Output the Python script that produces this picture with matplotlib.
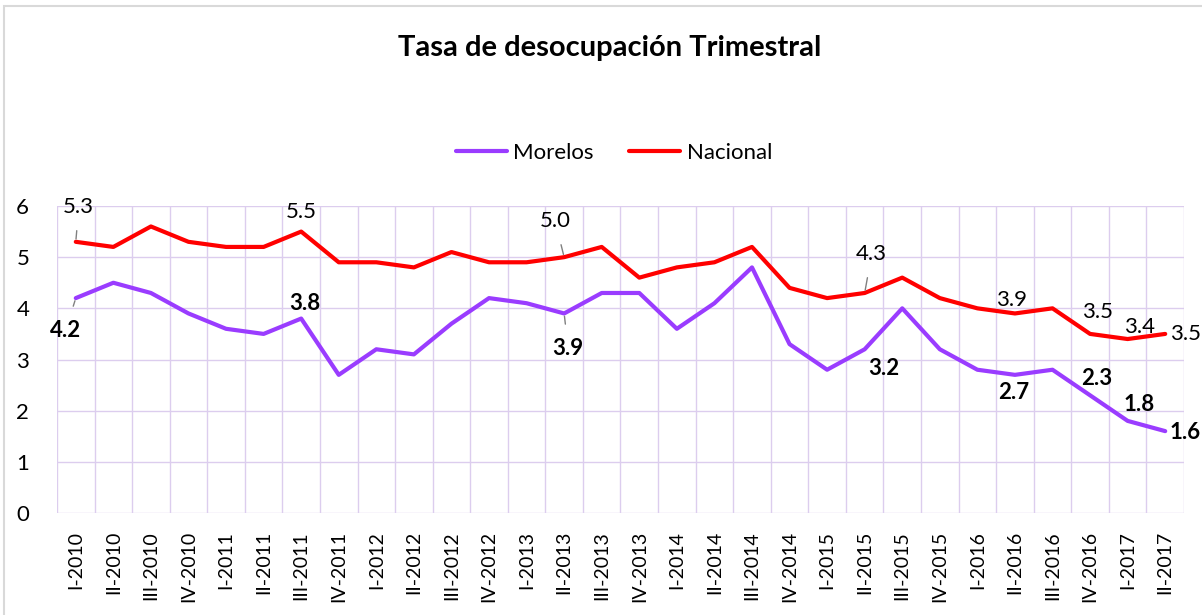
import matplotlib.pyplot as plt
from matplotlib.patches import Rectangle

plt.rcParams['font.family'] = ['Lato', 'DejaVu Sans']

quarters = ["I-2010", "II-2010", "III-2010", "IV-2010",
            "I-2011", "II-2011", "III-2011", "IV-2011",
            "I-2012", "II-2012", "III-2012", "IV-2012",
            "I-2013", "II-2013", "III-2013", "IV-2013",
            "I-2014", "II-2014", "III-2014", "IV-2014",
            "I-2015", "II-2015", "III-2015", "IV-2015",
            "I-2016", "II-2016", "III-2016", "IV-2016",
            "I-2017", "II-2017"]

morelos = [4.2, 4.5, 4.3, 3.9, 3.6, 3.5, 3.8, 2.7, 3.2, 3.1, 3.7, 4.2,
           4.1, 3.9, 4.3, 4.3, 3.6, 4.1, 4.8, 3.3, 2.8, 3.2, 4.0, 3.2,
           2.8, 2.7, 2.8, 2.3, 1.8, 1.6]
nacional = [5.3, 5.2, 5.6, 5.3, 5.2, 5.2, 5.5, 4.9, 4.9, 4.8, 5.1, 4.9,
            4.9, 5.0, 5.2, 4.6, 4.8, 4.9, 5.2, 4.4, 4.2, 4.3, 4.6, 4.2,
            4.0, 3.9, 4.0, 3.5, 3.4, 3.5]

# which points get a data label, and where (offset in pixels, leader line)
nac_labels = [(0, (3, 35), True), (6, (0, 20), False), (13, (-9, 36), True),
              (21, (7, 39), True), (25, (-3, 13), False), (27, (7, 22), False),
              (28, (12, 12), False), (29, (20, 0), False)]
mor_labels = [(0, (-10, -32), True), (6, (4, 15), False), (13, (4, -35), True),
              (21, (19, -19), False), (25, (-1, -18), False), (27, (7, 17), False),
              (28, (12, 16), False), (29, (20, -1), False)]

W, H = 1202, 615
fig = plt.figure(figsize=(W / 100, H / 100), dpi=100)
fig.patches.append(Rectangle((4 / W, -0.1), 1.2, 1 - 6 / H + 0.1,
                             transform=fig.transFigure, fill=False,
                             edgecolor='#d9d9d9', linewidth=1.5))

ax = fig.add_axes([57 / W, 1 - 513 / H, (1184 - 57) / W, (513 - 206) / H])
x = list(range(len(quarters)))
purple = '#9a3cff'
red = '#ff0000'
ax.plot(x, morelos, color=purple, linewidth=3, label='Morelos', solid_capstyle='round')
ax.plot(x, nacional, color=red, linewidth=3, label='Nacional', solid_capstyle='round')

ax.set_xlim(-0.5, len(quarters) - 0.5)
ax.set_ylim(0, 6)
ax.set_yticks(range(0, 7))
ax.set_xticks(x)
ax.set_xticklabels(quarters, rotation=90, fontsize=14)
ax.tick_params(axis='y', labelsize=16, length=0, pad=20)
ax.tick_params(axis='x', length=0, pad=13)

grid_c = '#dccdee'
for gx in [i + 0.5 for i in range(-1, len(quarters))]:
    ax.axvline(gx, color=grid_c, linewidth=1, zorder=0)
for gy in range(0, 7):
    ax.axhline(gy, color=grid_c, linewidth=1, zorder=0)
for s in ax.spines.values():
    s.set_visible(False)

for i, off, lead in nac_labels:
    ap = dict(arrowstyle='-', color='#808080', lw=1, shrinkA=8, shrinkB=2) if lead else None
    ax.annotate(f"{nacional[i]:.1f}", (i, nacional[i]), xytext=off,
                textcoords='offset pixels', ha='center', va='center',
                fontsize=16, arrowprops=ap, annotation_clip=False)
for i, off, lead in mor_labels:
    ap = dict(arrowstyle='-', color='#808080', lw=1, shrinkA=8, shrinkB=2) if lead else None
    ax.annotate(f"{morelos[i]:.1f}", (i, morelos[i]), xytext=off,
                textcoords='offset pixels', ha='center', va='center',
                fontsize=16, fontweight='bold', arrowprops=ap, annotation_clip=False)

fig.text(610 / W, 1 - 48 / H, "Tasa de desocupación Trimestral",
         ha='center', va='center', fontsize=21, fontweight='bold')
fig.legend(loc='center', bbox_to_anchor=(614 / W, 1 - 153 / H), ncol=2,
           frameon=False, fontsize=16, handlelength=2.3, columnspacing=1.6,
           handletextpad=0.3)

fig.savefig('out.png', dpi=100)
